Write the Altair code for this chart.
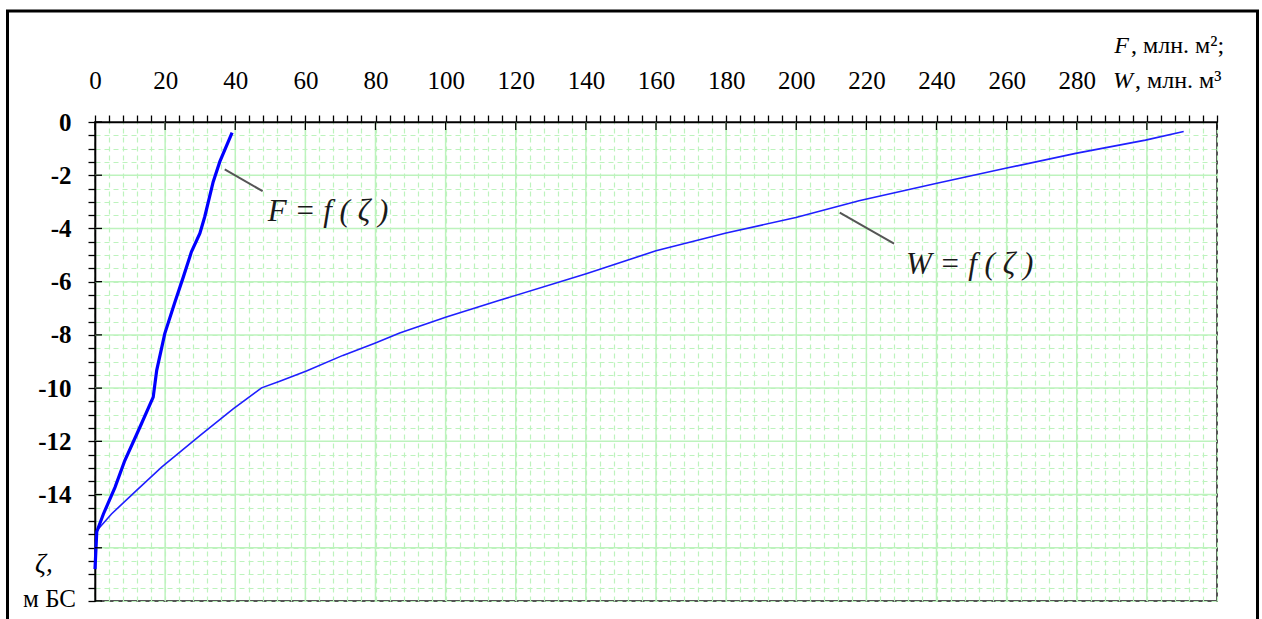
import altair as alt
import pandas as pd

# Water surface area F = f(zeta), million m^2, against level zeta, m BS
f_area = [0.0, 0.5, 2.4, 5.7, 8.5, 12.8, 16.6, 17.6, 19.9, 22.8, 25.2, 27.5, 29.9, 31.3, 33.7, 35.6, 39.1]
f_level = [-16.8, -15.4, -14.73, -13.73, -12.72, -11.47, -10.34, -9.33, -7.95, -6.76,
           -5.82, -4.88, -4.19, -3.56, -2.25, -1.49, -0.40]

# Storage volume W = f(zeta), million m^3
w_volume = [0.5, 4.7, 11.4, 19.0, 30.0, 39.4, 47.5, 52.7, 60.3, 70.7, 79.8, 86.9, 100.2,
            115.4, 140.1, 160.0, 180.0, 199.9, 217.9, 239.8, 259.7, 279.7, 299.6, 310.5]
w_level = [-15.36, -14.73, -13.9, -12.97, -11.78, -10.78, -9.99, -9.74, -9.36, -8.77, -8.31,
           -7.93, -7.33, -6.70, -5.70, -4.84, -4.17, -3.59, -2.96, -2.31, -1.74, -1.18, -0.68, -0.36]

# Axis ticks: minor every 4 / 0.5, major every 20 / 2
x_ticks = list(range(0, 321, 4))
y_ticks = [-v / 2 for v in range(0, 37)]
x_major = list(range(20, 301, 20))
y_major = list(range(-16, 0, 2))

# Curve captions with their leader lines (data units)
captions = ["F = f ( ζ )", "W = f ( ζ )"]
caption_x = [49.3, 231.3]
caption_z = [-3.39, -5.38]
leader_x = [37.0, 212.4]
leader_z = [-1.78, -3.41]
leader_x2 = [47.8, 227.9]
leader_z2 = [-2.60, -4.57]

SERIF = "Liberation Serif, Times New Roman, serif"
GRID = "#bdf3bd"
W, H = 1122, 479

X = alt.X(
    "x:Q",
    scale=alt.Scale(domain=[0, 320], nice=False, zero=False),
    axis=alt.Axis(
        orient="top", values=x_ticks, title=None,
        labelExpr="datum.value % 20 == 0 && datum.value <= 280 ? datum.label : ''",
        labelFont=SERIF, labelFontSize=25, labelColor="black", labelPadding=22,
        labelFlush=False, labelOverlap=False,
        tickSize=7, tickColor="black", tickWidth=1.3,
        domainColor="black", domainWidth=1.6,
        grid=True, gridColor=GRID, gridDash=[5, 4], gridWidth=1.2,
    ),
)
Y = alt.Y(
    "z:Q",
    scale=alt.Scale(domain=[-18, 0], nice=False, zero=False),
    axis=alt.Axis(
        orient="left", values=y_ticks, title=None,
        labelExpr="datum.value % 2 == 0 && datum.value >= -14 ? (datum.value == 0 ? '0' : '-' + abs(datum.value)) : ''",
        labelFont=SERIF, labelFontSize=25, labelFontWeight="bold", labelColor="black", labelPadding=17,
        labelFlush=False, labelOverlap=False, labelBaseline="middle",
        tickSize=7, tickColor="black", tickWidth=1.3,
        domainColor="black", domainWidth=1.6,
        grid=True, gridColor=GRID, gridDash=[5, 4], gridWidth=1.2,
    ),
)

f_df = pd.DataFrame({"x": f_area, "z": f_level})
w_df = pd.DataFrame({"x": w_volume, "z": w_level})
vmaj = pd.DataFrame({"x": x_major})
hmaj = pd.DataFrame({"z": y_major})
vtick = pd.DataFrame({"x": x_major + [0, 320]})
htick = pd.DataFrame({"z": [float(v) for v in y_major] + [0.0, -18.0]})
cap_df = pd.DataFrame({"label": captions, "x": caption_x, "z": caption_z})
lead_df = pd.DataFrame({"x": leader_x, "z": leader_z, "x2": leader_x2, "z2": leader_z2})
one = pd.DataFrame({"k": [0]})

grid_v = alt.Chart(vmaj).mark_rule(color=GRID, strokeWidth=1.5).encode(x=X)
grid_h = alt.Chart(hmaj).mark_rule(color=GRID, strokeWidth=1.5).encode(y=Y)

tick_in_x = alt.Chart(vtick).mark_rule(color="black", strokeWidth=1.3).encode(
    x=X, y=alt.value(0), y2=alt.value(8))
tick_in_y = alt.Chart(htick).mark_rule(color="black", strokeWidth=1.3).encode(
    y=Y, x=alt.value(0), x2=alt.value(7))

f_line = alt.Chart(f_df).mark_line(color="#0000ff", strokeWidth=3.2).encode(
    x=X, y=Y, order=alt.Order("z:Q"))
w_line = alt.Chart(w_df).mark_line(color="#1f1fff", strokeWidth=1.6).encode(
    x=X, y=Y, order=alt.Order("z:Q"))

leaders = alt.Chart(lead_df).mark_rule(color="#555555", strokeWidth=2).encode(
    x=X, y=Y, x2="x2:Q", y2="z2:Q")
cap_text = alt.Chart(cap_df).mark_text(
    font=SERIF, fontSize=31, fontStyle="italic", align="left", baseline="middle", color="#1a1a1a"
).encode(x=X, y=Y, text="label:N")

def label(txt, x, y, align="left", italic=False, size=24):
    return alt.Chart(one).mark_text(
        text=txt, font=SERIF, fontSize=size, fontStyle="italic" if italic else "normal",
        align=align, baseline="alphabetic", color="black",
    ).encode(x=alt.value(x), y=alt.value(y))

titles = [
    label("F", 1034, -69, align="right", italic=True),
    label(", млн. м²;", 1036, -69),
    label("W", 1038, -34, align="right", italic=True),
    label(", млн. м³", 1040, -34),
    label("ζ,", -60, 450, italic=True, size=27),
    label("м БС", -19, 485, align="right", size=25),
]

border = alt.Chart(one).mark_rect(filled=False, stroke="black", strokeWidth=3).encode(
    x=alt.value(-87.5), x2=alt.value(1162.5), y=alt.value(-111), y2=alt.value(510))

chart = alt.layer(
    grid_v, grid_h, w_line, f_line, leaders, cap_text, tick_in_x, tick_in_y, border, *titles
).properties(
    width=W, height=H,
    autosize=alt.AutoSizeParams(type="none"),
    padding={"left": 95, "top": 122, "right": 45, "bottom": 18},
    background="white",
).configure_view(stroke="#555555", strokeWidth=2)

chart.save("out.html", embed_options={"renderer": "svg", "actions": False})
